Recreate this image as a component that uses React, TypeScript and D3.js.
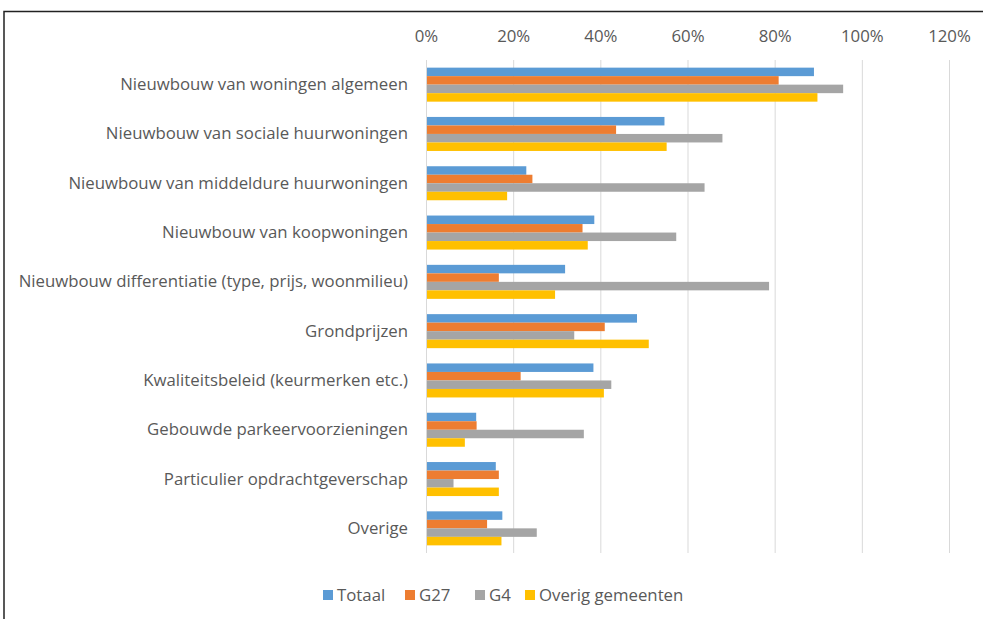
import React from 'react';
import * as d3 from 'd3';

const categories = [
  'Nieuwbouw van woningen algemeen',
  'Nieuwbouw van sociale huurwoningen',
  'Nieuwbouw van middeldure huurwoningen',
  'Nieuwbouw van koopwoningen ',
  'Nieuwbouw differentiatie (type, prijs, woonmilieu)',
  'Grondprijzen',
  'Kwaliteitsbeleid (keurmerken etc.)',
  'Gebouwde parkeervoorzieningen',
  'Particulier opdrachtgeverschap',
  'Overige',
];

const seriesNames = ['Totaal', 'G27', 'G4', 'Overig gemeenten'];
const seriesColors = ['#5B9BD5', '#ED7D31', '#A5A5A5', '#FFC000'];

const totaal = [88.9, 54.6, 22.9, 38.5, 31.8, 48.3, 38.3, 11.4, 15.9, 17.4];
const g27 = [80.8, 43.5, 24.3, 35.8, 16.6, 40.9, 21.6, 11.5, 16.6, 13.9];
const g4 = [95.6, 67.9, 63.8, 57.3, 78.6, 33.9, 42.4, 36.1, 6.2, 25.3];
const overig = [89.7, 55.1, 18.5, 37.0, 29.5, 51.0, 40.7, 8.8, 16.6, 17.2];

const ticks = [0, 20, 40, 60, 80, 100, 120];

const W = 983;
const H = 619;
const FONT = "'Open Sans', sans-serif";
const FS = 16.8;

const App = () => {
  const values = [totaal, g27, g4, overig];
  const x = d3.scaleLinear().domain([0, 120]).range([426.5, 949.5]);
  const y = d3.scaleBand<string>().domain(categories).range([60, 553]).paddingInner(0.31).paddingOuter(0.155);
  const inner = d3.scaleBand<number>().domain(d3.range(4)).range([0, y.bandwidth()]);
  const legendX = [323, 405, 475, 525];

  return (
    <svg width={W} height={H} style={{ position: 'absolute', left: 0, top: 0, background: '#fff' }} fontFamily={FONT}>
      <rect x={4} y={11.5} width={W + 10} height={H + 10} fill="#fff" stroke="#222" strokeWidth={1.5} />
      {ticks.map(t => (
        <g key={t}>
          <line x1={x(t)} x2={x(t)} y1={60} y2={553} stroke="#D9D9D9" strokeWidth={1} />
          <text x={x(t)} y={42} textAnchor="middle" fontSize={FS} fill="#595959">{t}%</text>
        </g>
      ))}
      {categories.map((c, i) => (
        <g key={c}>
          <text x={408} y={(y(c) ?? 0) + y.bandwidth() / 2 + 5.5} textAnchor="end" fontSize={FS} fill="#595959">{c}</text>
          {values.map((vals, s) => (
            <rect key={s} x={x(0)} y={(y(c) ?? 0) + (inner(s) ?? 0)} width={x(vals[i]) - x(0)} height={inner.bandwidth()} fill={seriesColors[s]} />
          ))}
        </g>
      ))}
      <line x1={x(0)} x2={x(0)} y1={60} y2={553} stroke="#D9D9D9" strokeWidth={1} />
      {seriesNames.map((n, s) => (
        <g key={n}>
          <rect x={legendX[s]} y={590} width={10} height={10} fill={seriesColors[s]} />
          <text x={legendX[s] + 14} y={600.5} fontSize={FS} fill="#595959">{n}</text>
        </g>
      ))}
    </svg>
  );
};

export default App;
